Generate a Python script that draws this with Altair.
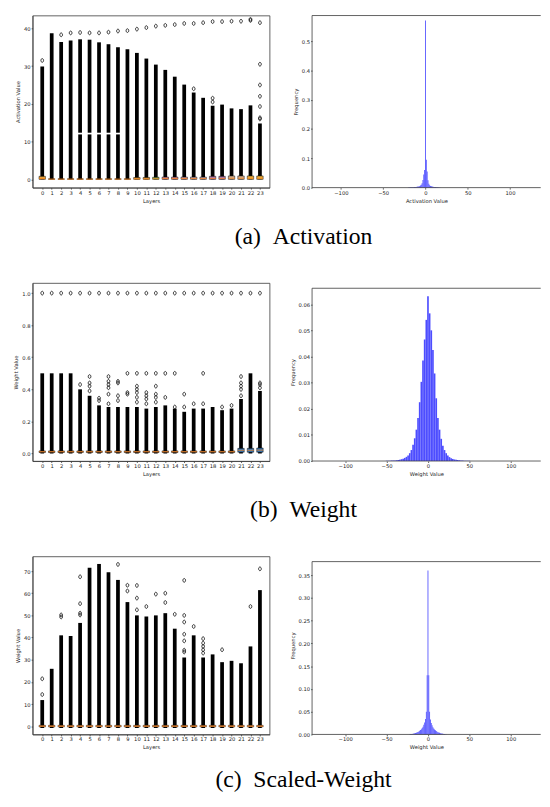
import altair as alt
import pandas as pd

LAYERS = list(range(24))
HIST_TICKS = [-100, -50, 0, 50, 100]

# ---------------- (a) Activation ----------------
act_low = 0.0
act_top = [29.9, 38.7, 36.4, 36.8, 37.1, 37.0, 36.3, 35.8, 35.0, 34.5, 33.5, 32.0,
           30.4, 29.0, 27.2, 25.1, 23.0, 21.6, 19.5, 19.8, 18.8, 18.6, 19.6, 14.8]
act_gap_layers = [4, 5, 6, 7, 8]
act_gap = [11.9, 12.35]
act_out_layer = [0, 2, 3, 4, 5, 6, 7, 8, 9, 10, 11, 12, 13, 14, 15, 16, 16, 17, 18, 18, 18,
                 19, 20, 21, 22, 22, 23, 23, 23, 23, 23, 23, 23]
act_out_value = [31.5, 38.3, 38.8, 38.9, 38.8, 38.8, 39.0, 39.3, 39.4, 39.8, 40.2, 40.6, 40.8,
                 41.0, 41.3, 41.3, 24.0, 41.5, 41.8, 20.5, 21.5, 41.8, 41.9, 41.9, 42.4, 42.1,
                 41.5, 30.5, 25.0, 22.0, 19.3, 16.3, 16.0]
act_q1 = [0.0] * 24
act_q3 = [0.8, 0.15, 0.15, 0.15, 0.15, 0.15, 0.15, 0.15, 0.15, 0.15, 0.5, 0.5,
          0.55, 0.6, 0.6, 0.6, 0.6, 0.6, 0.8, 0.8, 0.9, 0.9, 0.9, 0.9]
act_med = [0.2, 0.05, 0.05, 0.05, 0.05, 0.05, 0.05, 0.05, 0.05, 0.05, 0.1, 0.1,
           0.15, 0.2, 0.2, 0.2, 0.2, 0.2, 0.25, 0.25, 0.3, 0.3, 0.3, 0.3]
act_box_color = ["#e8a33c"] * 10 + ["#e8a33c", "#e0a040", "#8fbc5a", "#d98a9a", "#d98a9a",
                                    "#d7a0a8", "#c9a8b0", "#c9a8b0", "#b07aa8", "#b07aa8",
                                    "#d0b090", "#d0b090", "#e8b040", "#e8b040"]
act_hist_center = list(range(-20, 18))
act_hist_freq = [0.0008, 0.0008, 0.001, 0.001, 0.0012, 0.0014, 0.0016, 0.0018, 0.002, 0.0025,
                 0.003, 0.0035, 0.004, 0.005, 0.007, 0.010, 0.015, 0.026, 0.045, 0.060,
                 0.570,
                 0.095, 0.055, 0.025, 0.013, 0.008, 0.006, 0.005, 0.004, 0.003, 0.0025,
                 0.002, 0.0018, 0.0015, 0.0012, 0.001, 0.0008, 0.0006]

# ---------------- (b) Weight ----------------
w_low = 0.0
w_top = [0.50, 0.50, 0.50, 0.50, 0.40, 0.36, 0.30, 0.29, 0.29, 0.29, 0.29, 0.28,
         0.29, 0.30, 0.28, 0.26, 0.28, 0.28, 0.29, 0.27, 0.28, 0.34, 0.50, 0.39]
w_out_layer = LAYERS + [4, 5, 5, 5, 5, 6, 6, 7, 7, 7, 7, 7, 7, 8, 8, 8, 8, 9, 9, 9,
                        10, 10, 10, 10, 10, 10, 11, 11, 11, 11, 11, 12, 12, 12, 12, 12,
                        13, 13, 14, 14, 15, 15, 16, 17, 17, 19, 20, 21, 21, 21, 21, 21,
                        23, 23, 23]
w_out_value = [1.0] * 24 + [0.43, 0.39, 0.42, 0.44, 0.48, 0.33, 0.345, 0.31, 0.37, 0.41, 0.43,
                            0.45, 0.48, 0.33, 0.36, 0.44, 0.45, 0.37, 0.38, 0.50,
                            0.32, 0.35, 0.38, 0.40, 0.42, 0.50, 0.31, 0.34, 0.36, 0.38, 0.50,
                            0.32, 0.35, 0.37, 0.42, 0.50, 0.35, 0.50, 0.29, 0.50, 0.29, 0.37,
                            0.31, 0.31, 0.50, 0.29, 0.30, 0.36, 0.40, 0.42, 0.44, 0.48,
                            0.41, 0.43, 0.44]
w_q1 = [0.006] * 21 + [0.008, 0.008, 0.008]
w_q3 = [0.016] * 21 + [0.032, 0.032, 0.034]
w_med = [0.011] * 21 + [0.02, 0.02, 0.021]
w_box_color = ["#8a6a50"] * 21 + ["#3a7ab8", "#3a7ab8", "#3a7ab8"]
w_hist_center = list(range(-50, 51, 2))
w_hist_freq = [0.0001, 0.0001, 0.0001, 0.0002, 0.0002, 0.0002, 0.0003, 0.0004, 0.0005, 0.0007,
               0.0009, 0.0012, 0.0016, 0.0021, 0.003, 0.0042, 0.0062, 0.0087, 0.012, 0.0165,
               0.0225, 0.0303, 0.0385, 0.0465, 0.054,
               0.063,
               0.0565, 0.050, 0.0425, 0.0335, 0.024, 0.0165, 0.012, 0.0085, 0.0058, 0.0042,
               0.003, 0.0021, 0.0015, 0.0011, 0.0008, 0.0006, 0.0005, 0.0004, 0.0003, 0.0002,
               0.0002, 0.0001, 0.0001, 0.0001, 0.0001]

# ---------------- (c) Scaled-Weight ----------------
s_low = -0.8
s_top = [11.8, 25.9, 41.0, 40.7, 46.6, 71.5, 73.2, 69.5, 66.0, 56.0, 50.0, 49.5,
         50.0, 51.0, 44.0, 31.0, 41.0, 31.0, 32.4, 28.9, 29.5, 28.4, 36.0, 61.4]
s_out_layer = [0, 0, 2, 2, 4, 4, 4, 4, 8, 9, 9, 10, 10, 10, 11, 12, 13, 13, 14,
               15, 15, 15, 15, 15, 15, 15, 16, 17, 17, 17, 17, 17, 19, 22, 23]
s_out_value = [14.3, 21.4, 49.3, 50.2, 50.2, 51.0, 55.3, 67.4, 73.0, 61.0, 63.6, 52.5, 57.8,
               63.5, 54.0, 59.6, 55.8, 60.0, 50.5, 33.5, 34.3, 38.5, 41.5, 47.0, 50.0, 65.8,
               45.0, 33.0, 34.5, 36.0, 37.5, 39.5, 34.5, 54.0, 71.0]
s_q1 = [-0.3] * 24
s_q3 = [0.4] * 24
s_med = [0.05] * 24
s_box_color = ["#f0a060"] * 24
s_hist_center = list(range(-22, 23))
s_hist_freq = [0.0005, 0.0008, 0.001, 0.0012, 0.0015, 0.002, 0.0025, 0.003, 0.0037, 0.0045,
               0.0055, 0.0065, 0.0078, 0.0095, 0.0115, 0.014, 0.017, 0.021, 0.026, 0.034,
               0.05, 0.13,
               0.36,
               0.13, 0.05, 0.033, 0.025, 0.02, 0.016, 0.013, 0.011, 0.009, 0.0075, 0.006,
               0.005, 0.0042, 0.0035, 0.0028, 0.0022, 0.0018, 0.0014, 0.0011, 0.0008, 0.0006,
               0.0004]

SPINE = "#3a3a3a"
ELLIPSE = "M0,-1A0.73,1,0,1,1,0,1A0.73,1,0,1,1,0,-1Z"


def caption(text, offset):
    return alt.TitleParams(text, orient="bottom", anchor="middle", font="Liberation Serif",
                           fontSize=24, fontWeight="normal", color="black", offset=offset,
                           dx=155)


def box_panel(top, low, gap_layers, gap, out_layer, out_value, q1, q3, med, colors,
              ydom, yticks, yfmt, ytitle, w, h, cap, cap_offset):
    rows = []
    for l, t in zip(LAYERS, top):
        if l in gap_layers:
            rows.append((l, low, gap[0]))
            rows.append((l, gap[1], t))
        else:
            rows.append((l, low, t))
    seg = pd.DataFrame(rows, columns=["layer", "lo", "hi"])
    out = pd.DataFrame({"layer": out_layer, "value": out_value})
    box = pd.DataFrame({"layer": LAYERS, "q1": q1, "q3": q3, "med": med, "color": colors})
    xs = alt.Scale(domain=[-0.5, 23.5], nice=False, zero=False)
    ys = alt.Scale(domain=ydom, nice=False, zero=False)
    xax = alt.Axis(values=LAYERS, format="d", title="Layers", labelOverlap=False,
                   labelFlush=False)
    yax = alt.Axis(values=yticks, format=yfmt, title=ytitle, labelOverlap=False,
                   labelFlush=False)

    def X(f):
        return alt.X(f, type="quantitative", scale=xs, axis=xax)

    def Y(f):
        return alt.Y(f, type="quantitative", scale=ys, axis=yax)

    cols = alt.Chart(seg).mark_bar(color="black", width=3.8).encode(
        x=X("layer"), y=Y("lo"), y2="hi:Q")
    boxes = alt.Chart(box).mark_bar(width=6.5, stroke="black", strokeWidth=0.5).encode(
        x=X("layer"), y=Y("q1"), y2="q3:Q", fill=alt.Fill("color:N", scale=None))
    meds = alt.Chart(box).mark_tick(orient="horizontal", size=6.5, thickness=1,
                                    color="#ff7f0e").encode(x=X("layer"), y=Y("med"))
    fl = alt.Chart(out).mark_point(shape=ELLIPSE, size=14, filled=False, color="black",
                                   strokeWidth=0.8, opacity=1).encode(x=X("layer"), y=Y("value"))
    return alt.layer(cols, boxes, meds, fl).properties(width=w, height=h,
                                                      title=caption(cap, cap_offset))


def hist_panel(centers, freqs, bw, xdom, ydom, frame_top, yticks, yfmt, xtitle, w, h):
    df = pd.DataFrame({"lo": [c - bw / 2 for c in centers],
                       "hi": [c + bw / 2 for c in centers], "f": freqs})
    xs = alt.Scale(domain=xdom, nice=False, zero=False)
    ys = alt.Scale(domain=ydom, nice=False, zero=False)
    xax = alt.Axis(values=HIST_TICKS, title=xtitle, labelFlush=False, labelOverlap=False,
                   domain=False)
    yax = alt.Axis(values=yticks, format=yfmt, title="Frequency", labelFlush=False,
                   labelOverlap=False, domain=False)
    bars = alt.Chart(df).mark_bar(color="#4d4dff").encode(
        x=alt.X("lo:Q", scale=xs, axis=xax),
        x2="hi:Q",
        y=alt.Y("f:Q", scale=ys, axis=yax),
        y2=alt.datum(0))
    one = pd.DataFrame({"k": [0]})
    top_spine = alt.Chart(one).mark_rule(color=SPINE, strokeWidth=0.8).encode(
        x=alt.XDatum(xdom[0], scale=xs, axis=xax), x2=alt.X2Datum(xdom[1]),
        y=alt.YDatum(frame_top, scale=ys, axis=yax))
    bottom_spine = alt.Chart(one).mark_rule(color=SPINE, strokeWidth=0.8).encode(
        x=alt.XDatum(xdom[0], scale=xs, axis=xax), x2=alt.X2Datum(xdom[1]),
        y=alt.YDatum(0, scale=ys, axis=yax))
    left_spine = alt.Chart(one).mark_rule(color=SPINE, strokeWidth=0.8).encode(
        x=alt.XDatum(xdom[0], scale=xs, axis=xax),
        y=alt.YDatum(0, scale=ys, axis=yax), y2=alt.Y2Datum(frame_top))
    return alt.layer(bars, top_spine, bottom_spine, left_spine).properties(
        width=w, height=h, view=alt.ViewBackground(strokeOpacity=0))


a_box = box_panel(act_top, act_low, act_gap_layers, act_gap, act_out_layer, act_out_value,
                  act_q1, act_q3, act_med, act_box_color, [-2.2, 43.4], [0, 10, 20, 30, 40],
                  "d", "Activation Value", 241, 175, "(a)\u00a0\u00a0Activation", 22)
a_hist = hist_panel(act_hist_center, act_hist_freq, 1, [-134.1, 136.3], [0, 0.587], 0.587,
                    [0, 0.1, 0.2, 0.3, 0.4, 0.5], ".1f", "Activation Value", 232.5, 175)
b_box = box_panel(w_top, w_low, [], [0, 0], w_out_layer, w_out_value, w_q1, w_q3, w_med,
                  w_box_color, [-0.047, 1.063], [0.0, 0.2, 0.4, 0.6, 0.8, 1.0], ".1f",
                  "Weight Value", 241, 181, "(b)\u00a0\u00a0Weight", 22)
b_hist = hist_panel(w_hist_center, w_hist_freq, 2, [-140, 136.2], [0, 0.0681], 0.0661,
                    [0.0, 0.01, 0.02, 0.03, 0.04, 0.05, 0.06], ".2f", "Weight Value",
                    232.5, 181)
c_box = box_panel(s_top, s_low, [], [0, 0], s_out_layer, s_out_value, s_q1, s_q3, s_med,
                  s_box_color, [-3.7, 76.6], [0, 10, 20, 30, 40, 50, 60, 70], "d",
                  "Weight Value", 241, 181, "(c)\u00a0\u00a0Scaled-Weight", 18)
c_hist = hist_panel(s_hist_center, s_hist_freq, 1, [-140, 136.2], [0, 0.391], 0.3796,
                    [0.0, 0.05, 0.10, 0.15, 0.20, 0.25, 0.30, 0.35], ".2f", "Weight Value",
                    232.5, 181)

chart = alt.concat(
    a_box, a_hist, b_box, b_hist, c_box, c_hist,
    columns=2, spacing={"row": 97, "column": 43.2}, bounds="flush"
).properties(
    padding={"left": 5, "top": 0, "right": 0, "bottom": 0}
).configure_axis(
    labelFont="DejaVu Sans", titleFont="DejaVu Sans", labelFontSize=5.3, titleFontSize=5.3,
    titleFontWeight="normal", labelColor="#222222", titleColor="#222222",
    domainColor=SPINE, domainWidth=0.8, tickColor=SPINE, tickWidth=0.8, tickSize=1.5,
    labelPadding=1, titlePadding=3, grid=False
).configure_view(stroke=SPINE, strokeWidth=0.8)

chart.save("out.html", embed_options={"renderer": "svg", "actions": False})
